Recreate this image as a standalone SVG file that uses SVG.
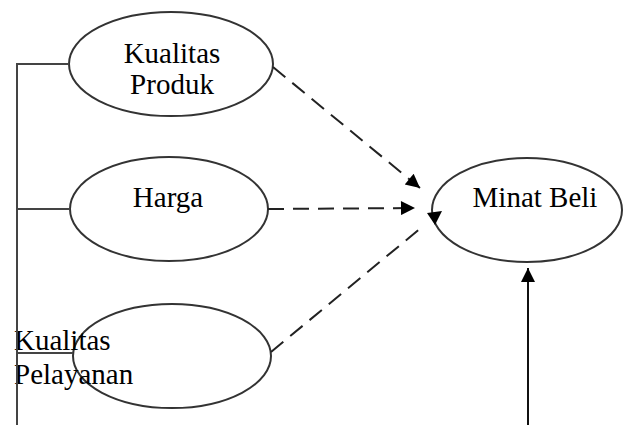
<svg xmlns="http://www.w3.org/2000/svg" width="626" height="425" viewBox="0 0 626 425">
<style>
.node ellipse{fill:#fff;stroke:#333;stroke-width:2}
.lbl{font-family:"Liberation Serif","Times New Roman",serif;font-size:29px;fill:#000}
.tree{stroke:#444;stroke-width:2;fill:none}
.dash{stroke:#222;stroke-width:2;stroke-dasharray:16 9;fill:none}
.solid{stroke:#111;stroke-width:2;fill:none}
</style>
<defs>
<marker id="ah" viewBox="0 0 10 10" refX="10" refY="5" markerUnits="userSpaceOnUse" markerWidth="16" markerHeight="14" orient="auto">
<path d="M0,0 L10,5 L0,10 z" fill="#000" stroke="none"/>
</marker>
</defs>
<rect width="626" height="425" fill="#fff"/>
<g id="kualitas-produk" class="node">
<ellipse cx="171" cy="64" rx="102" ry="52"/>
<text class="lbl" x="172" y="63" text-anchor="middle">Kualitas</text>
<text class="lbl" x="172" y="94" text-anchor="middle">Produk</text>
</g>
<g id="harga" class="node">
<ellipse cx="169" cy="209" rx="99" ry="52"/>
<text class="lbl" x="168" y="207" text-anchor="middle">Harga</text>
</g>
<g id="kualitas-pelayanan" class="node">
<ellipse cx="172" cy="356" rx="99" ry="52"/>
<text class="lbl" x="14" y="350">Kualitas</text>
<text class="lbl" x="14" y="384">Pelayanan</text>
</g>
<g id="minat-beli" class="node">
<ellipse cx="527" cy="210" rx="95" ry="52"/>
<text class="lbl" x="535" y="207" text-anchor="middle">Minat Beli</text>
</g>
<g id="connectors">
<path class="tree" d="M17,425 V64 H69 M17,209 H70 M17,353 H73"/>
<line class="dash" x1="273" y1="67" x2="420" y2="188" marker-end="url(#ah)"/>
<line class="dash" x1="268" y1="209" x2="415" y2="208" marker-end="url(#ah)"/>
<line class="dash" x1="271" y1="352" x2="422" y2="227"/>
<polygon points="427,213 442,211 435,225" fill="#000"/>
<line class="solid" x1="528" y1="425" x2="528" y2="268" marker-end="url(#ah)"/>
</g>
</svg>
